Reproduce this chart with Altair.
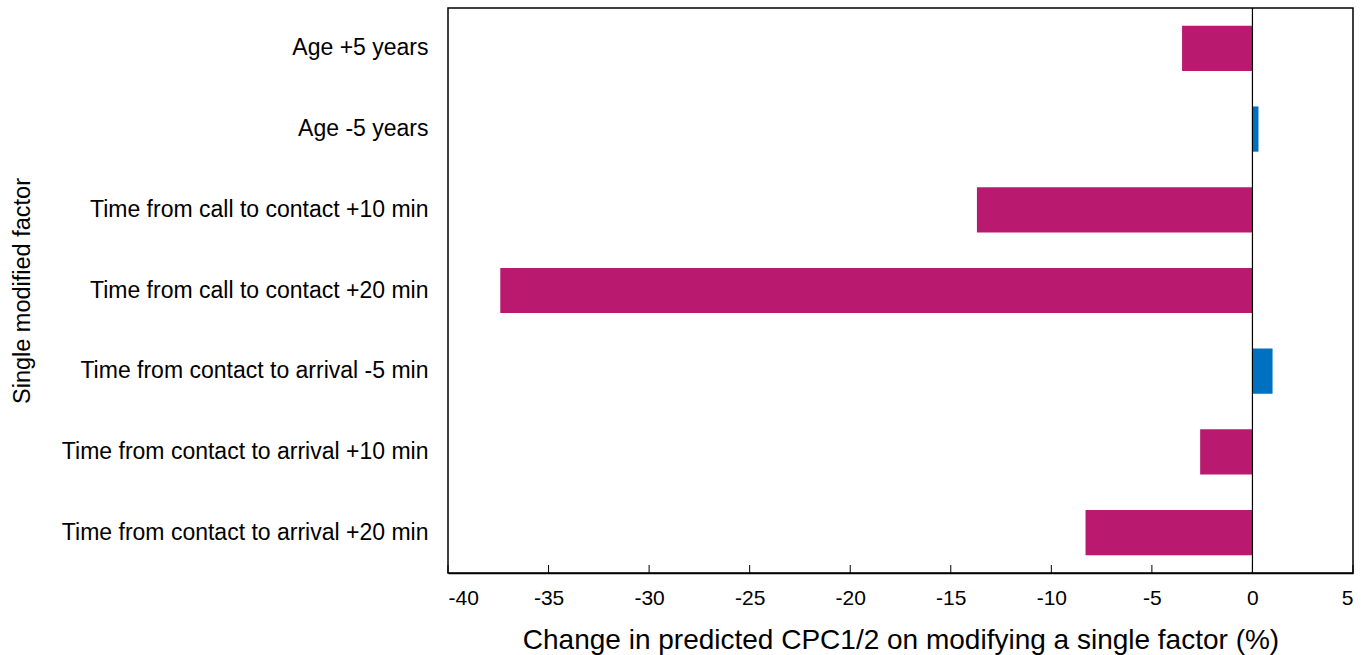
import altair as alt
import pandas as pd

factors = [
    "Age +5 years",
    "Age -5 years",
    "Time from call to contact +10 min",
    "Time from call to contact +20 min",
    "Time from contact to arrival -5 min",
    "Time from contact to arrival +10 min",
    "Time from contact to arrival +20 min",
]
changes = [-3.5, 0.3, -13.7, -37.4, 1.0, -2.6, -8.3]
tick_values = [-40, -35, -30, -25, -20, -15, -10, -5, 0, 5]

df = pd.DataFrame({
    "factor": factors,
    "change": changes,
    "sign": ["pos" if v > 0 else "neg" for v in changes],
})
ticks = pd.DataFrame({"t": tick_values})
zero = pd.DataFrame({"z": [0]})

W, H = 905, 565
LEFT = 448
FONT = "Liberation Sans"

xscale = alt.Scale(domain=[-40, 5], nice=False, zero=False)

bars = alt.Chart(df).mark_bar().encode(
    y=alt.Y("factor:N", sort=factors, title="Single modified factor",
            scale=alt.Scale(paddingInner=0.44, paddingOuter=0.22),
            axis=alt.Axis(ticks=False, domain=False, labelFontSize=23, labelPadding=20,
                          labelColor="black", titleFontSize=23.5, titleFontWeight="normal",
                          titleColor="black", titleX=22 - LEFT, titleY=H / 2,
                          titleBaseline="middle", titleAngle=-90, titleAlign="center",
                          labelLimit=600)),
    x=alt.X("change:Q", scale=xscale, title="Change in predicted CPC1/2 on modifying a single factor (%)",
            axis=alt.Axis(values=tick_values, ticks=False, grid=False, labelFontSize=21,
                          labelExpr="'' + datum.value",
                          labelColor="black", labelPadding=14, titleFontSize=28,
                          titleFontWeight="normal", titleColor="black",
                          titleY=67, titleBaseline="middle",
                          domainColor="black", domainWidth=1.5)),
    color=alt.Color("sign:N", scale=alt.Scale(domain=["neg", "pos"], range=["#B91A70", "#0070C0"]),
                    legend=None),
)

tick_rules = alt.Chart(ticks).mark_rule(color="black", strokeWidth=1).encode(
    x=alt.X("t:Q", scale=xscale),
    y=alt.value(H),
    y2=alt.value(H - 8),
)

zero_rule = alt.Chart(zero).mark_rule(color="black", strokeWidth=1.2).encode(
    x=alt.X("z:Q", scale=xscale),
)

chart = alt.layer(bars, zero_rule, tick_rules).properties(
    width=W, height=H,
    padding={"left": LEFT, "top": 8, "right": 18, "bottom": 82},
    autosize=alt.AutoSizeParams(type="none"),
).configure(font=FONT).configure_view(stroke="black", strokeWidth=1.5)

chart.save("out.html", embed_options={"renderer": "svg", "actions": False})
